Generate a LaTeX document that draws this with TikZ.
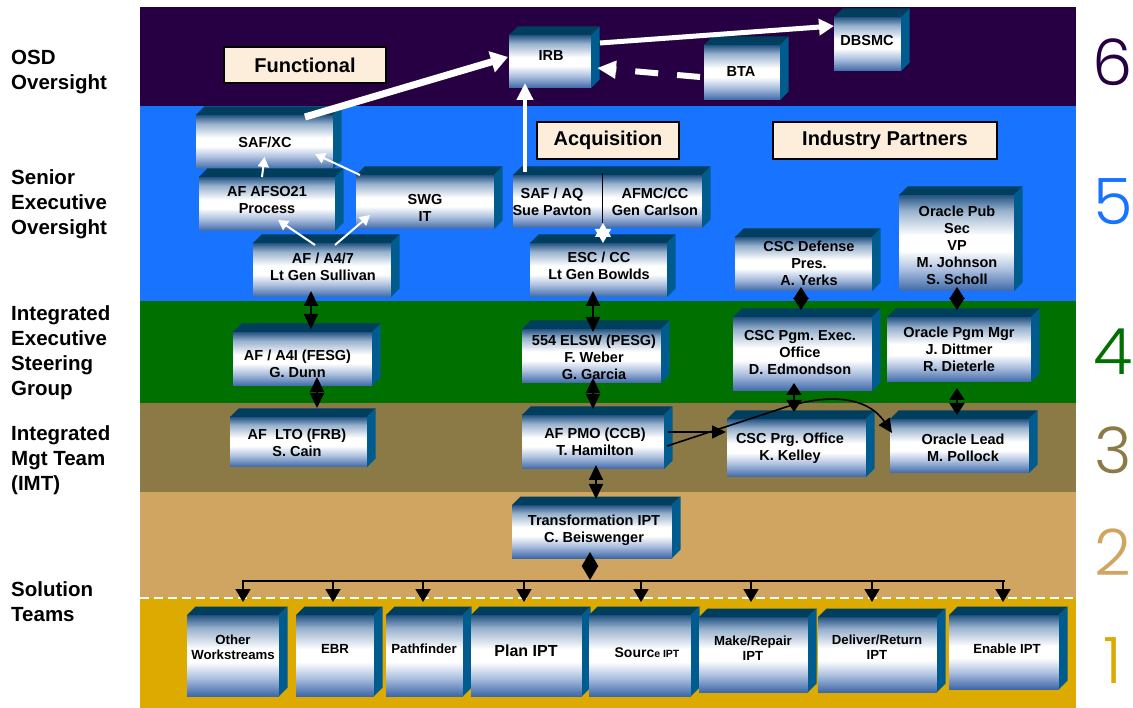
\documentclass[tikz,border=0pt]{standalone}
\usepackage{fontspec}
\setmainfont{Liberation Sans}
\IfFontExistsTF{Poppins Light}{\newfontfamily\numfont{Poppins Light}}{\newfontfamily\numfont{Poppins}}
\usetikzlibrary{arrows.meta,calc}
\frenchspacing

\definecolor{bPurple}{RGB}{38,0,66}
\definecolor{bBlue}{RGB}{24,116,255}
\definecolor{bGreen}{RGB}{0,112,0}
\definecolor{bOlive}{RGB}{140,122,70}
\definecolor{bTan}{RGB}{207,165,97}
\definecolor{bGold}{RGB}{220,170,0}
\definecolor{hdrFill}{RGB}{253,238,220}
\definecolor{cTop}{RGB}{36,82,130}
\definecolor{cMidT}{RGB}{150,176,204}
\definecolor{cMidB}{RGB}{170,190,222}
\definecolor{cBot}{RGB}{62,104,168}
\definecolor{topFace}{RGB}{0,62,94}
\definecolor{sideFace}{RGB}{0,92,142}

\pgfdeclareverticalshading{cubeshade}{100bp}{color(0bp)=(cBot); color(25bp)=(cBot); color(36bp)=(cMidB); color(46bp)=(white); color(54bp)=(white); color(67bp)=(cMidT); color(75bp)=(cTop); color(100bp)=(cTop)}

\def\cd{8.5}
\tikzset{
  cubefront/.style={rectangle, draw=none, shade, shading=cubeshade, inner sep=0pt, outer sep=0pt},
  topface/.style={fill=topFace},
  sideface/.style={fill=sideFace},
  boxtext/.style={align=center, inner sep=0pt, text=black, font=\bfseries\fontsize{14.5}{17}\selectfont},
  smalltext/.style={font=\bfseries\fontsize{13.2}{15}\selectfont},
  bigtext/.style={font=\bfseries\fontsize{16}{18}\selectfont},
  hdr/.style={draw=black, line width=2pt, fill=hdrFill, inner sep=0pt, font=\bfseries\fontsize{20}{24}\selectfont},
  sidelabel/.style={align=left, inner sep=0pt, anchor=north west, font=\bfseries\fontsize{20.5}{25}\selectfont},
  numlabel/.style={inner sep=0pt, font=\numfont\fontsize{64}{64}\selectfont},
  wbig/.style={white, line width=7pt, -{Triangle[length=17pt,width=21pt]}},
  wmed/.style={white, line width=5pt, -{Triangle[length=15pt,width=16pt]}},
  wup/.style={white, line width=4.5pt, -{Triangle[length=17pt,width=16pt]}},
  wdash/.style={white, line width=6pt, dash pattern=on 23pt off 19pt, -{Triangle[length=19pt,width=17pt]}},
  wsmall/.style={white, line width=2pt, -{Triangle[length=10pt,width=11pt]}},
  wstar/.style={white, line width=1pt, {Triangle[length=14pt,width=16pt]}-{Triangle[length=14pt,width=16pt]}},
  bdbl/.style={black, line width=2pt, {Triangle[length=15pt,width=14pt]}-{Triangle[length=15pt,width=14pt]}},
  bdbls/.style={black, line width=2pt, {Triangle[length=12pt,width=15pt]}-{Triangle[length=12pt,width=15pt]}},
  bone/.style={black, line width=1.6pt, -{Triangle[length=14pt,width=13pt]}},
  bdrop/.style={black, line width=1.8pt, -{Triangle[length=13pt,width=15pt]}},
  bus/.style={black, line width=2pt},
}

% #1 text options, #2 name, #3 x1, #4 y1, #5 x2, #6 y2, #7 tx, #8 ty, #9 text
\newcommand\cubebox[9][]{%
  \node[cubefront, minimum width={#5pt-#3pt}, minimum height={#6pt-#4pt}] (#2) at ({(#3+#5)/2},{(#4+#6)/2}) {};
  \fill[topface] (#2.north west) -- ++(\cd,-\cd) -- ([shift={(\cd,-\cd)}]#2.north east) -- (#2.north east) -- cycle;
  \fill[sideface] (#2.north east) -- ++(\cd,-\cd) -- ([shift={(\cd,-\cd)}]#2.south east) -- (#2.south east) -- cycle;
  \node[boxtext,#1] (#2-t) at (#7,#8) {#9};
}

\begin{document}
\begin{tikzpicture}[x=1pt, y=-1pt]
\useasboundingbox (0,0) rectangle (1133,708);
\fill[white] (0,0) rectangle (1133,708);

% bands
\fill[bPurple] (140,7) rectangle (1076,106);
\fill[bBlue] (140,106) rectangle (1076,301);
\fill[bGreen] (140,301) rectangle (1076,403);
\fill[bOlive] (140,403) rectangle (1076,492);
\fill[bTan] (140,492) rectangle (1076,598);
\fill[bGold] (140,598) rectangle (1076,708);
\coordinate (dashL) at (140,598);
\coordinate (dashR) at (1076,598);
\draw[white, line width=2pt, dash pattern=on 9pt off 5pt] (dashL) -- (dashR);

% left labels
\node[sidelabel] (l6) at (11,50) {OSD\\Oversight};
\node[sidelabel] (l5) at (11,169) {Senior\\Executive\\Oversight};
\node[sidelabel] (l4) at (11,305) {Integrated\\Executive\\Steering\\Group};
\node[sidelabel] (l3) at (11,425) {Integrated\\Mgt Team\\(IMT)};
\node[sidelabel] (l1) at (11,581) {Solution\\Teams};

% level numbers
\node[numlabel, text=bPurple] (n6) at (1113,62) {6};
\node[numlabel, text=bBlue] (n5) at (1113,202) {5};
\node[numlabel, text=bGreen] (n4) at (1113,352) {4};
\node[numlabel, text=bOlive] (n3) at (1113,450) {3};
\node[numlabel, text=bTan] (n2) at (1113,552) {2};
\node[numlabel, text=bGold] (n1) at (1113,661) {1};

% header boxes
\node[hdr, minimum width=162pt, minimum height=36pt] (func) at (305,65) {Functional};
\node[hdr, minimum width=142pt, minimum height=37pt] (acq) at (608,140.5) {Acquisition};
\node[hdr, minimum width=224pt, minimum height=37pt] (ind) at (885,140.5) {Industry Partners};

% boxes
\cubebox{irb}{509}{35}{591}{88}{551}{56}{IRB}
\cubebox{bta}{704}{45}{780}{100}{741}{72}{BTA}
\cubebox{dbsmc}{834}{17}{901}{71}{867}{41}{DBSMC}
\cubebox{safxc}{196}{115}{333}{169}{265}{142}{SAF/XC}
\cubebox{afso}{199}{177}{335}{231}{267}{200.5}{AF AFSO21\\Process}
\cubebox{swg}{356}{175}{494}{229}{425}{207.5}{SWG\\IT}
\cubebox{safaq}{513}{175}{702}{228}{552}{202}{SAF / AQ\\Sue Pavton}
\node[boxtext] (afmc-t) at (655,202) {AFMC/CC\\Gen Carlson};
\draw[black, line width=1.2pt] ($(safaq.north)+(-5,-2)$) -- ($(safaq.south)+(-5,-5)$);
\cubebox{a47}{253}{243}{391}{297}{323}{267}{AF / A4/7\\Lt Gen Sullivan}
\cubebox{esc}{530}{243}{667}{297}{599}{266}{ESC / CC\\Lt Gen Bowlds}
\cubebox{cscdef}{735}{237}{872}{291}{809}{263}{CSC Defense\\Pres.\\A. Yerks}
\cubebox{orpub}{899}{195}{1014}{291}{957}{245}{Oracle Pub\\Sec\\VP\\M. Johnson\\S. Scholl}
\cubebox{a4i}{233}{332}{372}{386}{297.5}{364}{AF / A4I (FESG)\\G. Dunn}
\cubebox{elsw}{522}{329}{661}{383}{594}{357}{554 ELSW (PESG)\\F. Weber\\G. Garcia}
\cubebox{cscpgm}{733}{317}{872}{391}{800}{353}{CSC Pgm. Exec.\\Office\\D. Edmondson}
\cubebox{ormgr}{887}{317}{1031}{382}{959}{349.5}{Oracle Pgm Mgr\\J. Dittmer\\R. Dieterle}
\cubebox{lto}{230}{417}{367}{467}{297}{442.5}{AF~~LTO (FRB)\\S. Cain}
\cubebox{pmo}{522}{415}{664}{469}{595}{441.5}{AF PMO (CCB)\\T. Hamilton}
\cubebox{cscprg}{727}{419}{866}{477}{790}{448}{CSC Prg. Office\\K. Kelley}
\cubebox{orlead}{890}{419}{1029}{473}{963}{448}{Oracle Lead\\M. Pollock}
\cubebox{trans}{512}{505}{672}{558}{594}{530.5}{Transformation IPT\\C. Beiswenger}

\cubebox[smalltext]{other}{187}{615}{279}{696}{233}{647}{Other\\Workstreams}
\cubebox[smalltext]{ebr}{296}{615}{374}{696}{335}{649}{EBR}
\cubebox[smalltext]{pathf}{386}{615}{463}{696}{424}{649}{Pathfinder}
\cubebox[bigtext]{plan}{471}{615}{582}{696}{526}{651}{Plan IPT}
\cubebox{source}{589}{615}{691}{696}{647}{653}{{\fontsize{14}{16}\selectfont Sourc}{\fontsize{10.5}{12}\selectfont e IPT}}
\cubebox[smalltext]{make}{699}{617}{808}{692}{753}{648}{Make/Repair\\IPT}
\cubebox[smalltext]{deliver}{818}{617}{937}{692}{877}{647}{Deliver/Return\\IPT}
\cubebox[smalltext]{enable}{949}{615}{1059}{689}{1007}{649}{Enable IPT}

% white connectors
\draw[wbig] ($(safxc.north)+(40.5,2)$) -- ($(irb.west)+(-1,-4.5)$);
\draw[wup] ($(safaq.north west)+(12,-3)$) -- ($(irb.south)+(-25,-5)$);
\draw[wmed] ($(irb.north east)+(9,8)$) -- ($(dbsmc.west)+(0,-18)$);
\draw[wdash] ($(bta.west)+(-4,4.5)$) -- ($(irb.east)+(6,6.5)$);
\draw[wsmall] ($(afso.north)+(-5,0)$) -- ($(safxc.south)+(0,-12)$);
\draw[wsmall] ($(swg.north west)+(4,0)$) -- ($(safxc.south east)+(-18,-15)$);
\draw[wsmall] ($(a47.north)+(-7,2)$) -- ($(afso.south)+(11,-11)$);
\draw[wsmall] ($(a47.north)+(13,2)$) -- ($(swg.south west)+(14,-14)$);
\draw[wstar] ($(safaq.south)+(-4.5,-5)$) -- ($(esc.north)+(4.5,0)$);

% black double connectors
\draw[bdbl] ($(a47.south)+(-11,-6)$) -- ($(a4i.north)+(8.5,-3)$);
\draw[bdbl] ($(a4i.south)+(14.5,-9)$) -- ($(lto.north)+(18.5,-9)$);
\draw[bdbl] ($(esc.south)+(-5.5,-6)$) -- ($(elsw.north)+(1.5,3)$);
\draw[bdbl] ($(elsw.south)+(1.5,-5)$) -- ($(pmo.north)+(0,-6)$);
\draw[bdbl] ($(pmo.south)+(3,-4)$) -- ($(trans.north)+(4,-6)$);
\draw[bdbls] ($(cscdef.south)+(-2.5,-4)$) -- ($(cscpgm.north)+(-1.5,-7)$);
\draw[bdbls] ($(orpub.south)+(0.5,-4)$) -- ($(ormgr.north)+(-2,-7)$);
\draw[bdbls] ($(cscpgm.south)+(-8.5,-8)$) -- ($(cscprg.north)+(-2.5,-7)$);
\draw[bdbls] ($(ormgr.south)+(-2,6)$) -- ($(orlead.north)+(-2.5,-4)$);

% AF PMO to contractor offices
\draw[bone] ($(pmo.east)+(4,-10)$) -- ($(cscprg.west)+(-1,-16)$);
\coordinate (bend) at (780,409);
\draw[bone] ($(pmo.east)+(3,4)$) -- (bend) .. controls (820,395) and (865,393) .. ($(orlead.west)+(2,-13)$);

% solution team bus
\draw[bdbl, {Triangle[length=14pt,width=16pt]}-{Triangle[length=14pt,width=16pt]}] ($(trans.south)+(-2,-6)$) -- ($(trans.south)+(-2,22)$);
\coordinate (busL) at (242,581);
\coordinate (busR) at (1005,581);
\draw[bus] (busL) -- (busR);
\foreach \n/\x in {other/243, ebr/333, pathf/423, plan/524, source/641, make/751, deliver/872, enable/1003}{
  \draw[bdrop] (\x,580) -- (\x,602);
}
\end{tikzpicture}
\end{document}
